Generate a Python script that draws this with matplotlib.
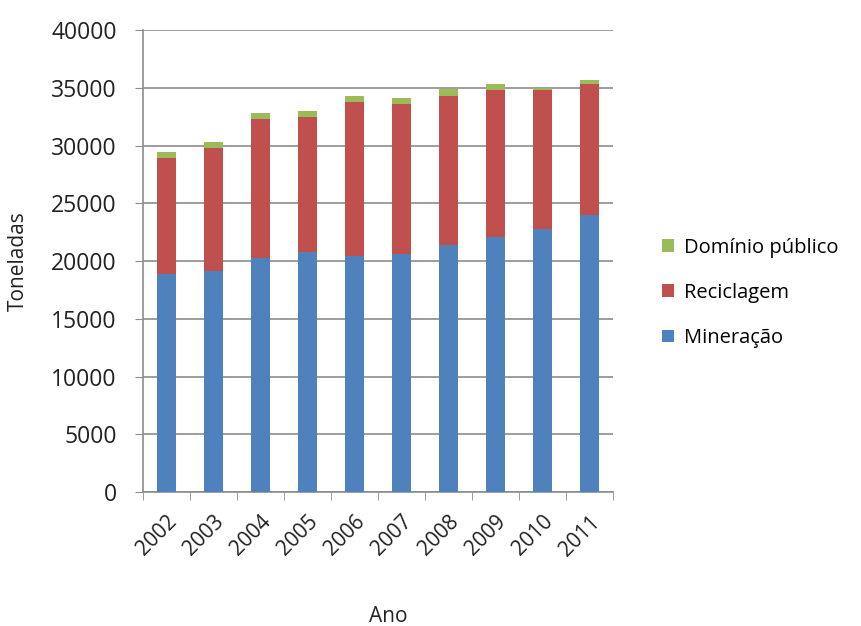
import numpy as np
import matplotlib
matplotlib.use('Agg')
import matplotlib.pyplot as plt
from matplotlib.ticker import FixedLocator

plt.rcParams['font.family'] = ['Open Sans', 'DejaVu Sans']

anos = ['2002', '2003', '2004', '2005', '2006', '2007', '2008', '2009', '2010', '2011']
mineracao = [18850, 19100, 20300, 20800, 20450, 20600, 21400, 22050, 22750, 24000]
reciclagem = [10070, 10680, 12000, 11670, 13290, 13000, 12920, 12730, 12090, 11360]
dominio = [520, 520, 520, 520, 580, 540, 580, 550, 170, 340]

fig = plt.figure(figsize=(8.61, 6.26), dpi=100)
ax = fig.add_axes([0.166, 0.214, 0.546, 0.738])

x = np.arange(len(anos))
w = 0.4
mine = np.array(mineracao)
reci = np.array(reciclagem)
b1 = ax.bar(x, mine, w, color='#4F81BD', label='Mineração', zorder=3)
b2 = ax.bar(x, reci, w, bottom=mine, color='#C0504D', label='Reciclagem', zorder=3)
b3 = ax.bar(x, dominio, w, bottom=mine + reci, color='#9BBB59', label='Domínio público', zorder=3)

ax.set_ylim(0, 40000)
ax.set_xlim(-0.5, len(anos) - 0.5)
ax.set_yticks(np.arange(0, 40001, 5000))
ax.yaxis.grid(True, color='#8c8c8c', linewidth=1.2, zorder=0)

ax.set_xticks(x)
ax.set_xticklabels(anos, rotation=45, ha='right', rotation_mode='anchor')
ax.xaxis.set_minor_locator(FixedLocator(np.arange(-0.5, len(anos), 1.0)))
ax.tick_params(axis='x', which='major', length=0, pad=14, labelsize=15, colors='#222222')
ax.tick_params(axis='x', which='minor', length=6, color='#8c8c8c', direction='out')
ax.tick_params(axis='y', length=6, color='#8c8c8c', labelsize=16.5, labelcolor='#222222', pad=13)

for s in ['top', 'right']:
    ax.spines[s].set_visible(False)
for s in ['left', 'bottom']:
    ax.spines[s].set_color('#8c8c8c')
    ax.spines[s].set_linewidth(1.2)

ax.set_ylabel('Toneladas', fontsize=15, color='#222222')
ax.yaxis.set_label_coords(-0.243, 0.5)
fig.text(388 / 861, 0.006, 'Ano', fontsize=15, color='#222222', ha='center', va='baseline')

handles = [b3, b2, b1]
fig.legend(handles, [h.get_label() for h in handles], loc='center left',
           bbox_to_anchor=(0.748, 0.532), frameon=False, fontsize=14.5,
           handlelength=0.6, handleheight=0.6, labelspacing=1.25, handletextpad=0.5)

fig.savefig('out.png', dpi=100)
